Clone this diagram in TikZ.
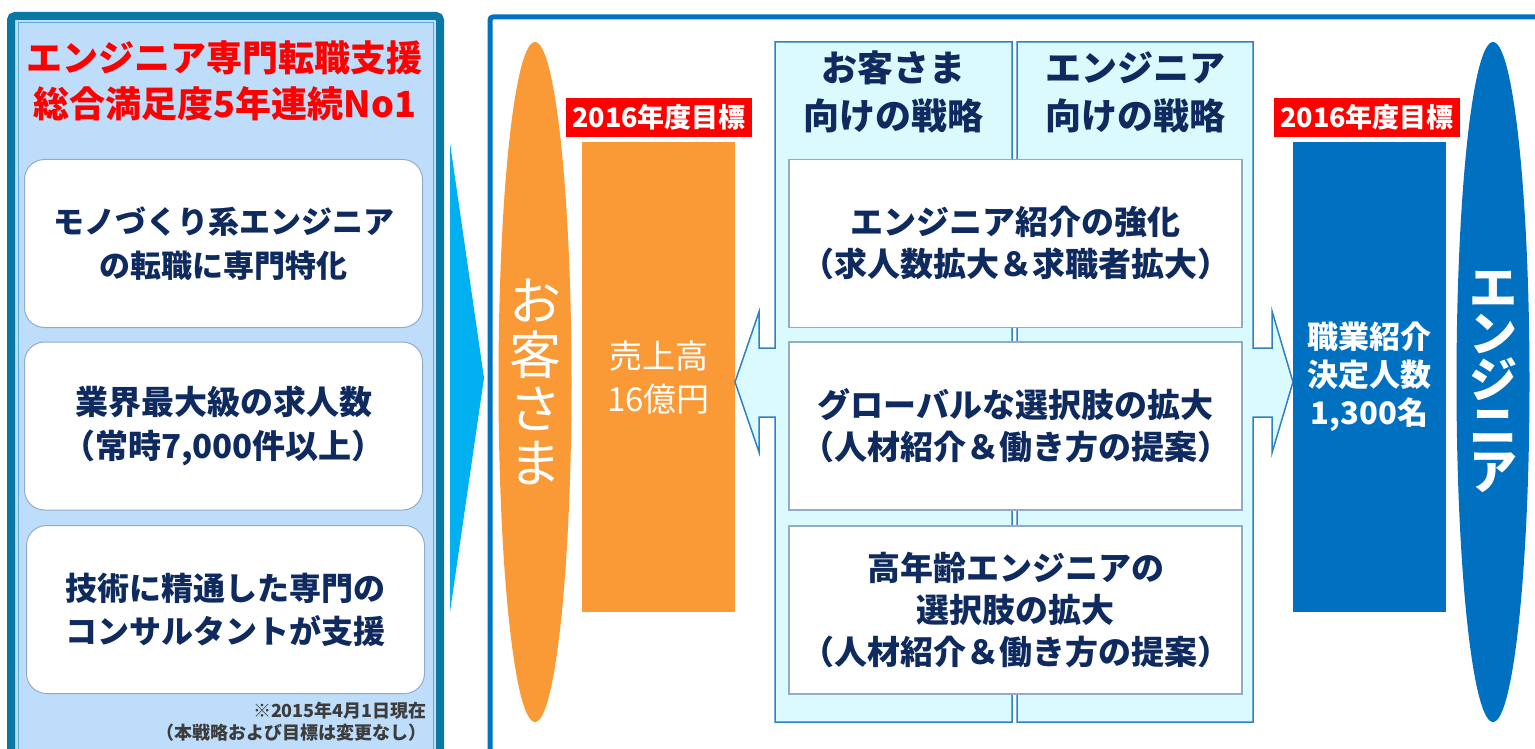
\documentclass[tikz,border=0pt]{standalone}
\usepackage{fontspec}
\newfontfamily\jpfont{Noto Sans CJK JP}
\usetikzlibrary{shapes.geometric}
\definecolor{panelteal}{HTML}{0A78A4}
\definecolor{panelline}{HTML}{5AAAD8}
\definecolor{panelfill}{HTML}{BDDDFB}
\definecolor{arrowcyan}{HTML}{00B0F0}
\definecolor{frameblue}{HTML}{0070C0}
\definecolor{custorange}{HTML}{FA9A36}
\definecolor{navy}{HTML}{0E2A5F}
\definecolor{colfill}{HTML}{DAFAFD}
\definecolor{colline}{HTML}{2F80C4}
\definecolor{boxline}{HTML}{93AACB}
\definecolor{notegray}{HTML}{3C3C3C}
\begin{document}
\begin{tikzpicture}[x=1pt,y=-1pt,
    every node/.style={inner sep=0pt, align=center},
    leftbox/.style={draw=boxline, fill=white, line width=1pt, rounded corners=20pt,
      minimum width=398pt, minimum height=168pt, text=navy},
    stratbox/.style={draw=boxline, fill=white, line width=1.2pt,
      minimum width=453pt, minimum height=168pt, text=navy,
      font=\jpfont\bfseries\fontsize{33}{42}\selectfont},
    colbox/.style={draw=colline, fill=colfill, line width=1.5pt},
    goalbox/.style={fill=red, text=white, minimum width=186pt, minimum height=39pt,
      font=\jpfont\bfseries\fontsize{27}{30}\selectfont},
    headtext/.style={text=navy, font=\jpfont\bfseries\fontsize{36}{48}\selectfont},
    bigcap/.style={ellipse, minimum width=73pt, minimum height=680pt}]
    \useasboundingbox (0,0) rectangle (1535,749);
    \clip (0,0) rectangle (1535,749);
    % left panel
    \draw [panelteal, line width=8pt, fill=panelfill, rounded corners=4pt] (11,16) rectangle (440,790);
    \draw [panelline, line width=1pt] (18,23) rectangle (433,790);
    \node [text=red, font=\jpfont\bfseries\fontsize{36}{46}\selectfont] (title) at (225,81)
      {エンジニア専門転職支援\\総合満足度5年連続No1};
    \node [leftbox, font=\jpfont\bfseries\fontsize{31}{44}\selectfont] (strength1) at (223.5,243.5)
      {モノづくり系エンジニア\\の転職に専門特化};
    \node [leftbox, font=\jpfont\bfseries\fontsize{33}{44}\selectfont] (strength2) at (223.5,426)
      {業界最大級の求人数\\（常時7,000件以上）};
    \node [leftbox, font=\jpfont\bfseries\fontsize{32}{43}\selectfont] (strength3) at (225.5,609.5)
      {技術に精通した専門の\\コンサルタントが支援};
    \node [anchor=east, align=right, text=notegray, font=\jpfont\bfseries\fontsize{18}{22}\selectfont] (note) at (427,722)
      {※2015年4月1日現在\\（本戦略および目標は変更なし）};
    \fill [arrowcyan] (450,143) -- (484,378) -- (450,612) -- cycle;
    % right panel
    \draw [frameblue, line width=5pt, rounded corners=3pt] (490,790) -- (490,17) -- (1560,17);
    \node [bigcap, fill=custorange] (cust) at (535,382) {};
    \node [text=white, font=\jpfont\fontsize{52}{54}\selectfont] (custlabel) at (cust.center) {お\\客\\さ\\ま};
    \node [goalbox] (goalL) at (659,117.5) {2016年度目標};
    \node [fill=custorange, minimum width=153pt, minimum height=470pt, text=white,
      font=\jpfont\fontsize{33}{43}\selectfont] (sales) at (658.5,377) {売上高\\16億円};
    \draw [colbox] (775,42) -- (1012,42) -- (1012,722) -- (775,722) -- (775,417) -- (759,417)
      -- (759,452) -- (735,382) -- (759,312) -- (759,348) -- (775,348) -- cycle;
    \draw [colbox] (1017,42) -- (1253,42) -- (1253,348) -- (1272,348) -- (1272,311) -- (1293,382)
      -- (1272,453) -- (1272,417) -- (1253,417) -- (1253,722) -- (1017,722) -- cycle;
    \node [headtext] (headC) at (893.5,92) {お客さま\\向けの戦略};
    \node [headtext] (headE) at (1135,92) {エンジニア\\向けの戦略};
    \node [stratbox] (stratA) at (1015.5,243.5) {エンジニア紹介の強化\\（求人数拡大＆求職者拡大）};
    \node [stratbox] (stratB) at (1015.5,426) {グローバルな選択肢の拡大\\（人材紹介＆働き方の提案）};
    \node [stratbox] (stratC) at (1015.5,610) {高年齢エンジニアの\\選択肢の拡大\\（人材紹介＆働き方の提案）};
    \node [goalbox] (goalR) at (1367,117.5) {2016年度目標};
    \node [fill=frameblue, minimum width=153pt, minimum height=470pt, text=white,
      font=\jpfont\bfseries\fontsize{31}{38}\selectfont] (placed) at (1369.5,377) {職業紹介\\決定人数\\1,300名};
    \node [bigcap, fill=frameblue] (eng) at (1493,382) {};
    \node [text=white, font=\jpfont\bfseries\fontsize{48}{46}\selectfont] (englabel) at (eng.center) {エ\\ン\\ジ\\ニ\\ア};
\end{tikzpicture}
\end{document}
